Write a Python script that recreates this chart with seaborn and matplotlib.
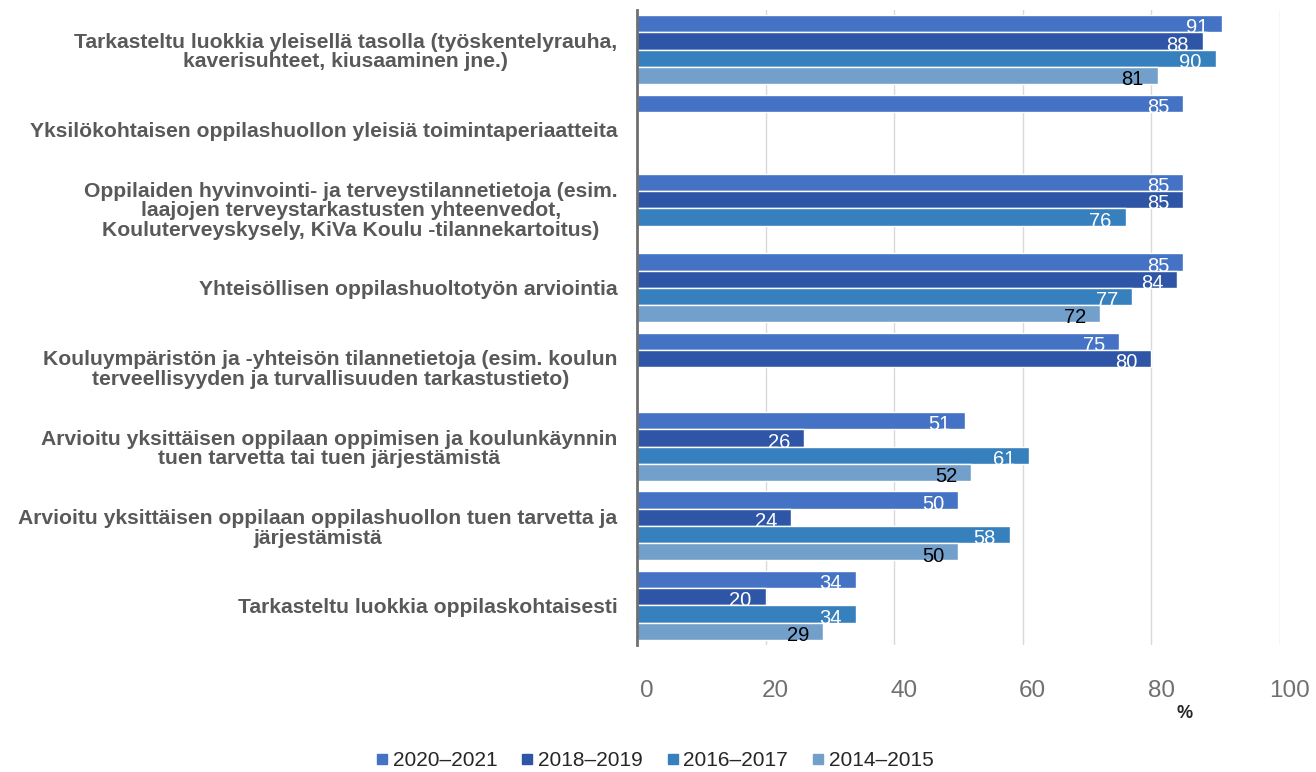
import numpy as np
import pandas as pd
import seaborn as sns
import matplotlib.pyplot as plt
from matplotlib.lines import Line2D
import matplotlib.transforms as mtransforms

categories = [
    "Tarkasteltu luokkia yleisellä tasolla (työskentelyrauha,\nkaverisuhteet, kiusaaminen jne.)",
    "Yksilökohtaisen oppilashuollon yleisiä toimintaperiaatteita",
    "Oppilaiden hyvinvointi- ja terveystilannetietoja (esim.\nlaajojen terveystarkastusten yhteenvedot,\nKouluterveyskysely, KiVa Koulu -tilannekartoitus)",
    "Yhteisöllisen oppilashuoltotyön arviointia",
    "Kouluympäristön ja -yhteisön tilannetietoja (esim. koulun\nterveellisyyden ja turvallisuuden tarkastustieto)",
    "Arvioitu yksittäisen oppilaan oppimisen ja koulunkäynnin\ntuen tarvetta tai tuen järjestämistä",
    "Arvioitu yksittäisen oppilaan oppilashuollon tuen tarvetta ja\njärjestämistä",
    "Tarkasteltu luokkia oppilaskohtaisesti",
]
series = ["2020–2021", "2018–2019", "2016–2017", "2014–2015"]
nan = np.nan
v2020_2021 = [91, 85, 85, 85, 75, 51, 50, 34]
v2018_2019 = [88, nan, 85, 84, 80, 26, 24, 20]
v2016_2017 = [90, nan, 76, 77, nan, 61, 58, 34]
v2014_2015 = [81, nan, nan, 72, nan, 52, 50, 29]
xticks = [0, 20, 40, 60, 80, 100]

colors = ["#4472C4", "#2F56A6", "#3780BE", "#73A0CB"]
label_colors = ["white", "white", "white", "black"]

rows = []
for s, vals in zip(series, [v2020_2021, v2018_2019, v2016_2017, v2014_2015]):
    for c, v in zip(categories, vals):
        if not np.isnan(v):
            rows.append({"cat": c, "series": s, "val": v})
df = pd.DataFrame(rows)

sns.set_theme(style="white")
plt.rcParams["font.family"] = ["Liberation Sans", "DejaVu Sans"]

fig = plt.figure(figsize=(13.16, 7.72), dpi=100)
ax = fig.add_axes([0.484, 0.1645, 0.4886, 0.8225])

sns.barplot(data=df, y="cat", x="val", hue="series", order=categories,
            hue_order=series, palette=colors, orient="h", width=0.87,
            edgecolor="white", linewidth=1, saturation=1, legend=False,
            errorbar=None, ax=ax)

ax.set_xlim(0, 100)
ax.set_ylim(len(categories) - 0.5, -0.5)
ax.set_xticks(xticks)
ax.set_xlabel("")
ax.set_ylabel("")
ax.grid(axis="x", color="#d9d9d9", linewidth=1)
ax.set_axisbelow(True)
for side in ["top", "right", "bottom"]:
    ax.spines[side].set_visible(False)
ax.spines["left"].set_color("#6f6f6f")
ax.spines["left"].set_linewidth(2)
ax.tick_params(axis="x", length=0, pad=25, labelsize=17.5, labelcolor="#707070")
ax.tick_params(axis="y", length=0, pad=14, labelsize=15.2, labelcolor="#595959")
for lab in ax.get_yticklabels():
    lab.set_fontweight("bold")
    lab.set_multialignment("center")
    lab.set_linespacing(1.05)
off = mtransforms.ScaledTranslation(10 / 100, 0, fig.dpi_scale_trans)
for lab in ax.get_xticklabels():
    lab.set_transform(lab.get_transform() + off)

for i, cont in enumerate(ax.containers):
    for p in cont:
        w = p.get_width()
        if np.isnan(w) or w == 0:
            continue
        ax.annotate(f"{w:.0f}", xy=(w, p.get_y() + p.get_height() / 2),
                    xytext=(-10, -3), textcoords="offset points",
                    ha="right", va="center", fontsize=14.5,
                    color=label_colors[i])

fig.text(0.9, 0.076, "%", fontsize=13, fontweight="bold", color="#262626",
         ha="center", va="center")

handles = [Line2D([0], [0], marker="s", linestyle="", markersize=7.5,
                  markerfacecolor=c, markeredgecolor=c) for c in colors]
fig.legend(handles, series, loc="center", bbox_to_anchor=(0.497, 0.015),
           ncol=4, frameon=False, fontsize=15, handletextpad=0.15,
           columnspacing=1.1, handlelength=0.7, labelcolor="#262626")

fig.savefig("out.png", dpi=100)
